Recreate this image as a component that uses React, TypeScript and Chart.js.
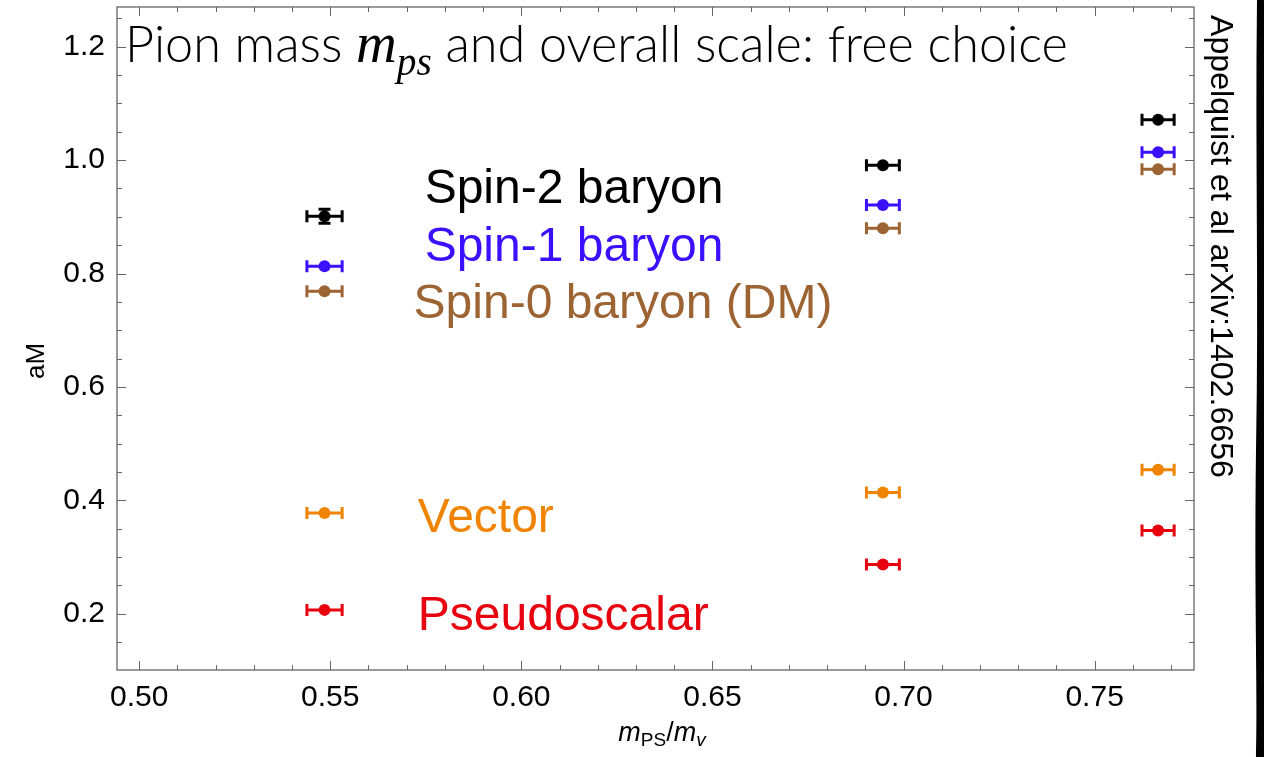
import React, { useEffect, useRef } from "react";
import { Chart, registerables } from "chart.js";

Chart.register(...registerables);

// ---------------- data ----------------
const xValues = [0.5485, 0.6946, 0.7666];
const xErrors = [0.005, 0.0047, 0.0046];

const spin2Values = [0.901, 0.991, 1.071];
const spin2Errors = [0.015, 0.006, 0.005];
const spin1Values = [0.813, 0.921, 1.014];
const spin1Errors = [0.006, 0.005, 0.004];
const spin0Values = [0.769, 0.88, 0.984];
const spin0Errors = [0.009, 0.006, 0.005];
const vectorValues = [0.378, 0.414, 0.454];
const vectorErrors = [0.004, 0.004, 0.004];
const pseudoValues = [0.207, 0.287, 0.347];
const pseudoErrors = [0.003, 0.003, 0.003];

const seriesLabels = ["Spin-2 baryon", "Spin-1 baryon", "Spin-0 baryon (DM)", "Vector", "Pseudoscalar"];
const seriesColors = ["#000000", "#3a10ff", "#9c6432", "#f08400", "#e8000e"];
const labelAnchorX = [0.5747, 0.5747, 0.5718, 0.5729, 0.5729];
const labelAnchorY = [0.947, 0.845, 0.7445, 0.367, 0.195];

const xMajorTicks = [0.5, 0.55, 0.6, 0.65, 0.7, 0.75];
const xMinorTicks = [0.51, 0.52, 0.53, 0.54, 0.56, 0.57, 0.58, 0.59, 0.61, 0.62, 0.63, 0.64, 0.66, 0.67, 0.68, 0.69, 0.71, 0.72, 0.73, 0.74, 0.76, 0.77];
const yMajorTicks = [0.2, 0.4, 0.6, 0.8, 1.0, 1.2];
const yMinorTicks = [0.15, 0.25, 0.3, 0.35, 0.45, 0.5, 0.55, 0.65, 0.7, 0.75, 0.85, 0.9, 0.95, 1.05, 1.1, 1.15, 1.25];

const titleParts = ["Pion mass ", "m", "ps", " and overall scale: free choice"];
const sideNote = "Appelquist et al arXiv:1402.6656";
const yAxisTitle = "aM";

const seriesValues = [spin2Values, spin1Values, spin0Values, vectorValues, pseudoValues];
const seriesErrors = [spin2Errors, spin1Errors, spin0Errors, vectorErrors, pseudoErrors];

// ---------------- drawing helpers ----------------
type Piece = { text: string; font: string; dy?: number };

function richWidth(ctx: CanvasRenderingContext2D, pieces: Piece[]) {
  let w = 0;
  for (const p of pieces) {
    ctx.font = p.font;
    w += ctx.measureText(p.text).width;
  }
  return w;
}

function drawRich(ctx: CanvasRenderingContext2D, pieces: Piece[], x: number, y: number) {
  let cx = x;
  for (const p of pieces) {
    ctx.font = p.font;
    ctx.fillText(p.text, cx, y + (p.dy || 0));
    cx += ctx.measureText(p.text).width;
  }
}

const decorPlugin = {
  id: "decor",
  beforeDatasetsDraw(chart: any) {
    const ctx: CanvasRenderingContext2D = chart.ctx;
    const xs = chart.scales.x;
    const ys = chart.scales.y;
    ctx.save();
    ctx.lineWidth = 3;
    ctx.lineCap = "butt";
    seriesValues.forEach((vals, i) => {
      ctx.strokeStyle = seriesColors[i];
      vals.forEach((v, j) => {
        const px = xs.getPixelForValue(xValues[j]);
        const py = ys.getPixelForValue(v);
        const x0 = xs.getPixelForValue(xValues[j] - xErrors[j]);
        const x1 = xs.getPixelForValue(xValues[j] + xErrors[j]);
        ctx.beginPath();
        ctx.moveTo(x0, py);
        ctx.lineTo(x1, py);
        ctx.moveTo(x0 + 1.5, py - 6);
        ctx.lineTo(x0 + 1.5, py + 6);
        ctx.moveTo(x1 - 1.5, py - 6);
        ctx.lineTo(x1 - 1.5, py + 6);
        const y0 = ys.getPixelForValue(v - seriesErrors[i][j]);
        const y1 = ys.getPixelForValue(v + seriesErrors[i][j]);
        if (Math.abs(y0 - y1) > 12) {
          ctx.moveTo(px, y0);
          ctx.lineTo(px, y1);
          ctx.moveTo(px - 6, y0 - 1.5);
          ctx.lineTo(px + 6, y0 - 1.5);
          ctx.moveTo(px - 6, y1 + 1.5);
          ctx.lineTo(px + 6, y1 + 1.5);
        }
        ctx.stroke();
      });
    });
    ctx.restore();
  },
  afterDraw(chart: any) {
    const ctx: CanvasRenderingContext2D = chart.ctx;
    const xs = chart.scales.x;
    const ys = chart.scales.y;
    const a = chart.chartArea;
    ctx.save();

    // frame
    ctx.strokeStyle = "#666";
    ctx.lineWidth = 1.3;
    ctx.strokeRect(a.left, a.top, a.right - a.left, a.bottom - a.top);
    ctx.beginPath();
    const xt = (vals: number[], len: number) => {
      vals.forEach((v) => {
        const p = Math.round(xs.getPixelForValue(v)) + 0.5;
        ctx.moveTo(p, a.bottom);
        ctx.lineTo(p, a.bottom - len);
        ctx.moveTo(p, a.top);
        ctx.lineTo(p, a.top + len);
      });
    };
    const yt = (vals: number[], len: number) => {
      vals.forEach((v) => {
        const p = Math.round(ys.getPixelForValue(v)) + 0.5;
        ctx.moveTo(a.left, p);
        ctx.lineTo(a.left + len, p);
        ctx.moveTo(a.right, p);
        ctx.lineTo(a.right - len, p);
      });
    };
    xt(xMajorTicks, 9);
    xt(xMinorTicks, 5);
    yt(yMajorTicks, 9);
    yt(yMinorTicks, 5);
    ctx.lineWidth = 1;
    ctx.stroke();

    // series labels
    ctx.textBaseline = "middle";
    ctx.textAlign = "left";
    ctx.font = "48px 'Liberation Sans', Arial, sans-serif";
    seriesLabels.forEach((t, i) => {
      ctx.fillStyle = seriesColors[i];
      ctx.fillText(t, xs.getPixelForValue(labelAnchorX[i]), ys.getPixelForValue(labelAnchorY[i]));
    });

    // title
    ctx.fillStyle = "#000";
    ctx.textBaseline = "alphabetic";
    const mk = (s: number): Piece[] => [
      { text: titleParts[0], font: `300 ${s}px Lato, 'Open Sans', sans-serif` },
      { text: titleParts[1], font: `italic ${s * 1.12}px 'Liberation Serif', serif` },
      { text: titleParts[2], font: `italic ${s * 0.78}px 'Liberation Serif', serif`, dy: s * 0.25 },
      { text: titleParts[3], font: `300 ${s}px Lato, 'Open Sans', sans-serif` },
    ];
    const w48 = richWidth(ctx, mk(48));
    const ts = (48 * 943) / w48;
    drawRich(ctx, mk(ts), a.left + 8, 62);

    // x axis title
    const xt2: Piece[] = [
      { text: "m", font: "italic 27px 'Liberation Sans', Arial, sans-serif" },
      { text: "PS", font: "19px 'Liberation Sans', Arial, sans-serif", dy: 5 },
      { text: "/", font: "27px 'Liberation Sans', Arial, sans-serif" },
      { text: "m", font: "italic 27px 'Liberation Sans', Arial, sans-serif" },
      { text: "v", font: "italic 19px 'Liberation Sans', Arial, sans-serif", dy: 5 },
    ];
    const xw = richWidth(ctx, xt2);
    drawRich(ctx, xt2, 662 - xw / 2, 741);

    // y axis title
    ctx.save();
    ctx.translate(37, 361);
    ctx.rotate(-Math.PI / 2);
    ctx.textAlign = "center";
    ctx.textBaseline = "middle";
    ctx.font = "26px 'Liberation Sans', Arial, sans-serif";
    ctx.fillText(yAxisTitle, 0, 0);
    ctx.restore();

    // side note
    ctx.save();
    ctx.translate(1211, 15);
    ctx.rotate(Math.PI / 2);
    ctx.textAlign = "left";
    ctx.textBaseline = "alphabetic";
    ctx.font = "31px 'Liberation Sans', Arial, sans-serif";
    const sw = ctx.measureText(sideNote).width;
    ctx.scale(463 / sw, 1);
    ctx.fillText(sideNote, 0, 0);
    ctx.restore();

    // black edge
    ctx.fillStyle = "#000";
    ctx.beginPath();
    ctx.moveTo(1264, 0);
    ctx.lineTo(1257, 0);
    ctx.bezierCurveTo(1255, 150, 1259, 300, 1256, 450);
    ctx.bezierCurveTo(1254, 600, 1258, 700, 1256, 757);
    ctx.lineTo(1264, 757);
    ctx.closePath();
    ctx.fill();

    ctx.restore();
  },
};

export default function App() {
  const ref = useRef<HTMLCanvasElement | null>(null);
  useEffect(() => {
    if (!ref.current) return;
    const chart = new Chart(ref.current, {
      type: "scatter",
      data: {
        datasets: seriesValues.map((vals, i) => ({
          label: seriesLabels[i],
          data: xValues.map((x, j) => ({ x, y: vals[j] })),
          backgroundColor: seriesColors[i],
          borderColor: seriesColors[i],
          pointRadius: 6,
          pointHoverRadius: 6,
          borderWidth: 0,
        })),
      },
      options: {
        responsive: false,
        animation: false,
        layout: { padding: { top: 7, right: 70, left: 0, bottom: 0 } },
        plugins: { legend: { display: false }, tooltip: { enabled: false } },
        scales: {
          x: {
            type: "linear",
            min: 0.4942,
            max: 0.776,
            afterBuildTicks: (s: any) => {
              s.ticks = xMajorTicks.map((v) => ({ value: v }));
            },
            afterFit: (s: any) => {
              s.height = 87;
              s.paddingLeft = 0;
              s.paddingRight = 0;
            },
            ticks: {
              callback: (v: any) => Number(v).toFixed(2),
              font: { family: "'Liberation Sans', Arial, sans-serif", size: 30 },
              color: "#000",
              padding: 2,
              maxRotation: 0,
              autoSkip: false,
            },
            grid: { display: false },
            border: { display: false },
          },
          y: {
            type: "linear",
            min: 0.101,
            max: 1.27,
            afterBuildTicks: (s: any) => {
              s.ticks = yMajorTicks.map((v) => ({ value: v }));
            },
            afterFit: (s: any) => {
              s.width = 117;
              s.paddingTop = 0;
              s.paddingBottom = 0;
            },
            ticks: {
              callback: (v: any) => Number(v).toFixed(1),
              font: { family: "'Liberation Sans', Arial, sans-serif", size: 30 },
              color: "#000",
              padding: 4,
              autoSkip: false,
            },
            grid: { display: false },
            border: { display: false },
          },
        },
      },
      plugins: [decorPlugin],
    });
    return () => chart.destroy();
  }, []);
  return (
    <div style={{ position: "absolute", left: 0, top: 0, width: 1264, height: 757, background: "#fff" }}>
      <canvas ref={ref} width={1264} height={757} style={{ display: "block" }} />
    </div>
  );
}
